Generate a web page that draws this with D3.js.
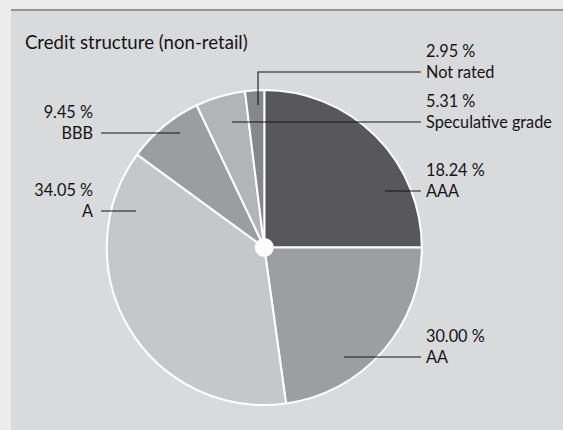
<!DOCTYPE html>
<html>
<head>
<meta charset="utf-8">
<script src="https://cdn.jsdelivr.net/npm/d3@7"></script>
<style>
  html, body { margin: 0; padding: 0; background: #ebeceb; }
  svg { display: block; }
  text { font-family: Lato, "Open Sans", sans-serif; fill: #141414; }
</style>
</head>
<body>
<svg id="chart" width="563" height="430"></svg>
<script>
// ---- data ----
const title = "Credit structure (non-retail)";
const categories = ["AAA", "AA", "A", "BBB", "Speculative grade", "Not rated"];
const shareLabels = [18.24, 30.00, 34.05, 9.45, 5.31, 2.95];      // printed values
const sliceShares = [25.0, 22.8, 37.25, 7.9, 5.1, 1.96];         // slice sizes as drawn in the reference
const sliceColors = ["#58585a", "#9d9e9f", "#c6c7c8", "#9c9d9e", "#b3b4b5", "#86878a"];

// ---- layout (label placement) ----
const labelLayout = [
  { side: "right", pts: [[385, 191], [421, 191]] },
  { side: "right", pts: [[344, 357], [421, 357]] },
  { side: "left",  pts: [[136, 211], [101, 211]] },
  { side: "left",  pts: [[180, 133], [101, 133]] },
  { side: "right", pts: [[232, 122], [421, 122]] },
  { side: "right", pts: [[258, 105], [258, 72], [421, 72]] }
];

const W = 563, H = 430;
const cx = 264.3, cy = 247.5, R = 157.5;
const svg = d3.select("#chart");

// background panel
svg.append("rect").attr("x", 0).attr("y", 0).attr("width", W).attr("height", H).attr("fill", "#ebeceb");
svg.append("rect").attr("x", 11).attr("y", 10).attr("width", W - 11).attr("height", H - 10).attr("fill", "#d9dadc");
svg.append("line").attr("x1", 11).attr("x2", W).attr("y1", 10).attr("y2", 10)
  .attr("stroke", "#7a7a7a").attr("stroke-width", 1.5);

// adjust text width horizontally (mimics the face of the original)
function squeeze(sel, x, s) {
  sel.attr("transform", `translate(${x},0) scale(${s},1) translate(${-x},0)`);
}

// title
const t = svg.append("text").attr("x", 25).attr("y", 49).attr("font-size", 19).text(title);
squeeze(t, 25, 223 / t.node().getComputedTextLength());

// pie
const data = categories.map((c, i) => ({ cat: c, share: shareLabels[i], size: sliceShares[i], color: sliceColors[i], i }));
const pie = d3.pie().sort(null).value(d => d.size).startAngle(0).endAngle(2 * Math.PI);
const arc = d3.arc().innerRadius(0).outerRadius(R);
const g = svg.append("g").attr("transform", `translate(${cx},${cy})`);
g.selectAll("path").data(pie(data)).join("path")
  .attr("d", arc)
  .attr("fill", d => d.data.color)
  .attr("stroke", "#ffffff").attr("stroke-width", 2).attr("stroke-linejoin", "round");
g.append("circle").attr("r", 9.5).attr("fill", "#ffffff");

// leader lines + labels
const fmt = d3.format(".2f");
const lineGen = d3.line();
const FS = 17;
const probe = svg.append("text").attr("font-size", FS).text("Speculative grade");
const labelScale = 126 / probe.node().getComputedTextLength();
probe.remove();

data.forEach((d, i) => {
  const L = labelLayout[i];
  svg.append("path").attr("d", lineGen(L.pts)).attr("fill", "none")
    .attr("stroke", "#141414").attr("stroke-width", 1.1);
  const end = L.pts[L.pts.length - 1];
  const right = L.side === "right";
  const tx = right ? end[0] + 5 : end[0] - 8;
  const base = end[1] + 6;
  [[fmt(d.share) + " %", base - 20.5], [d.cat, base]].forEach(([txt, y]) => {
    const el = svg.append("text").attr("x", tx).attr("y", y).attr("font-size", FS)
      .attr("text-anchor", right ? "start" : "end").text(txt);
    squeeze(el, tx, labelScale);
  });
});
</script>
</body>
</html>
